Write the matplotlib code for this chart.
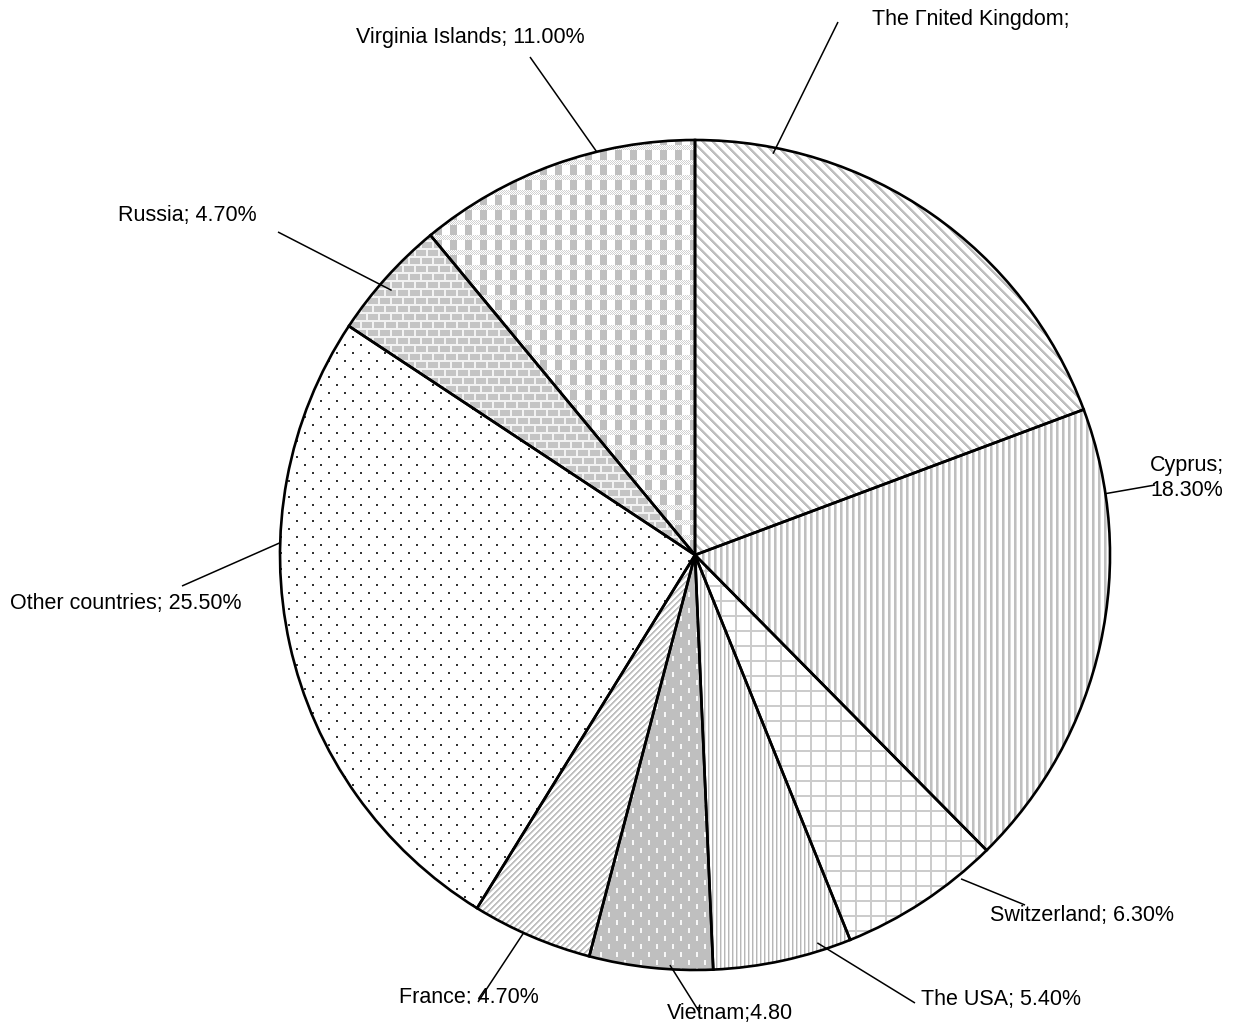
import numpy as np
import matplotlib
matplotlib.use("Agg")
import matplotlib.pyplot as plt
from matplotlib.transforms import Bbox, TransformedBbox

# Shares of foreign investment by country of origin (%)
countries = ["The United Kingdom", "Cyprus", "Switzerland", "The USA", "Vietnam",
             "France", "Other countries", "Russia", "Virginia Islands"]
shares = [19.3, 18.3, 6.3, 5.4, 4.8, 4.7, 25.5, 4.7, 11.0]
label_texts = ["The Гnited Kingdom;", "Cyprus;\n18.30%", "Switzerland; 6.30%",
               "The USA; 5.40%", "Vietnam;4.80", "France; 4.70%",
               "Other countries; 25.50%", "Russia; 4.70%", "Virginia Islands; 11.00%"]

# ---- layout (pixel coordinates, y measured from the top) ----
W, H, DPI = 1239, 1025, 100
CX, CY, R = 695, 555, 415
leader_angle = [79.0, 8.5, -50.6, -72.5, -93.5, -114.4, 178.3, 138.9, 103.7]
leader_rfrac = [0.985, 1.0, 1.01, 0.98, 0.99, 1.0, 1.0, 0.97, 1.0]
leader_end = [(838, 22), (1155, 485), (1025, 905), (915, 1003), (700, 1013),
              (478, 1002), (182, 586), (278, 232), (530, 57)]
label_pos = [(872, 20), (1187, 478), (990, 916), (921, 1000), (667, 1013),
             (399, 997), (10, 604), (118, 216), (356, 37)]
label_ha = ["left", "center", "left", "left", "left", "left", "left", "left", "left"]

plt.rcParams["font.family"] = ["Liberation Sans", "DejaVu Sans"]

fig = plt.figure(figsize=(W / DPI, H / DPI), dpi=DPI)
ax = fig.add_axes([0, 0, 1, 1])

wedges, _ = ax.pie(shares, startangle=90, counterclock=False,
                   center=(CX, H - CY), radius=R, colors=["none"] * len(shares),
                   wedgeprops=dict(edgecolor="black", linewidth=1.9), frame=True)

# ---- monochrome fill textures ----
yy, xx = np.mgrid[0:H, 0:W]


def tone(mask_val_pairs, base=1.0):
    t = np.full((H, W), base, dtype=float)
    for mask, v in mask_val_pairs:
        t[mask] = v
    return t


def tex_back_diag():
    d = (xx - yy) % 10
    return tone([(d < 3, 0.75), (d == 3, 0.88)])


def tex_vertical():
    d = xx % 6
    return tone([(d < 2, 0.75), (d == 2, 0.86)])


def tex_grid():
    return tone([((xx % 15 < 2) | (yy % 15 < 2), 0.80)])


def tex_fine_vertical():
    d = xx % 4
    return tone([(d == 0, 0.72), (d == 1, 0.88)])


def tex_dashes():
    col = xx // 8
    dash = (xx % 8 < 2) & (((yy + (col % 2) * 8) % 16) < 5)
    return tone([(dash, 0.97)], base=0.75)


def tex_fwd_diag():
    d = (xx + yy) % 6
    return tone([(d < 2, 0.75), (d == 2, 0.87)])


def tex_dots():
    row = yy // 8
    dot = (yy % 8 < 2) & (((xx + (row % 2) * 8) % 16) < 2)
    return tone([(dot, 0.2)])


def tex_bricks():
    row = yy // 8
    mortar = (yy % 8 < 2) | (((xx + (row % 2) * 6) % 12) < 2)
    return tone([(mortar, 0.95)], base=0.77)


def tex_plaid():
    cy_ = yy % 15
    cx_ = xx % 15
    block = (cy_ < 10) & (cx_ < 7)
    band = (cy_ >= 10) & ((xx + yy) % 2 == 0)
    return tone([(block, 0.75), (band, 0.82)])


textures = [tex_back_diag, tex_vertical, tex_grid, tex_fine_vertical, tex_dashes,
            tex_fwd_diag, tex_dots, tex_bricks, tex_plaid]

for w, make in zip(wedges, textures):
    t = make()
    rgb = np.dstack([t, t, t])
    im = ax.imshow(rgb, extent=(0, W, 0, H), origin="upper",
                   interpolation="nearest", zorder=1)
    im.set_clip_path(w)
    w.set_zorder(3)

# ---- leader lines and labels ----
clip_bottom = TransformedBbox(Bbox([[0, H - 1004], [W, H]]), ax.transData)
for i, text in enumerate(label_texts):
    a = np.deg2rad(leader_angle[i])
    r = R * leader_rfrac[i]
    x0, y0 = CX + r * np.cos(a), (H - CY) + r * np.sin(a)
    ex, ey = leader_end[i]
    ax.plot([x0, ex], [y0, H - ey], color="black", lw=1.1, zorder=4,
            solid_capstyle="butt")
    tx, ty = label_pos[i]
    t = ax.text(tx, H - ty, text, ha=label_ha[i], va="center", fontsize=15.5,
                multialignment="center", linespacing=1.3, zorder=5)
    if countries[i] == "France":
        t.set_clip_box(clip_bottom)
        t.set_clip_on(True)

ax.set_xlim(0, W)
ax.set_ylim(0, H)
ax.set_aspect("auto")
ax.axis("off")

fig.savefig("out.png", dpi=DPI, facecolor="white")
